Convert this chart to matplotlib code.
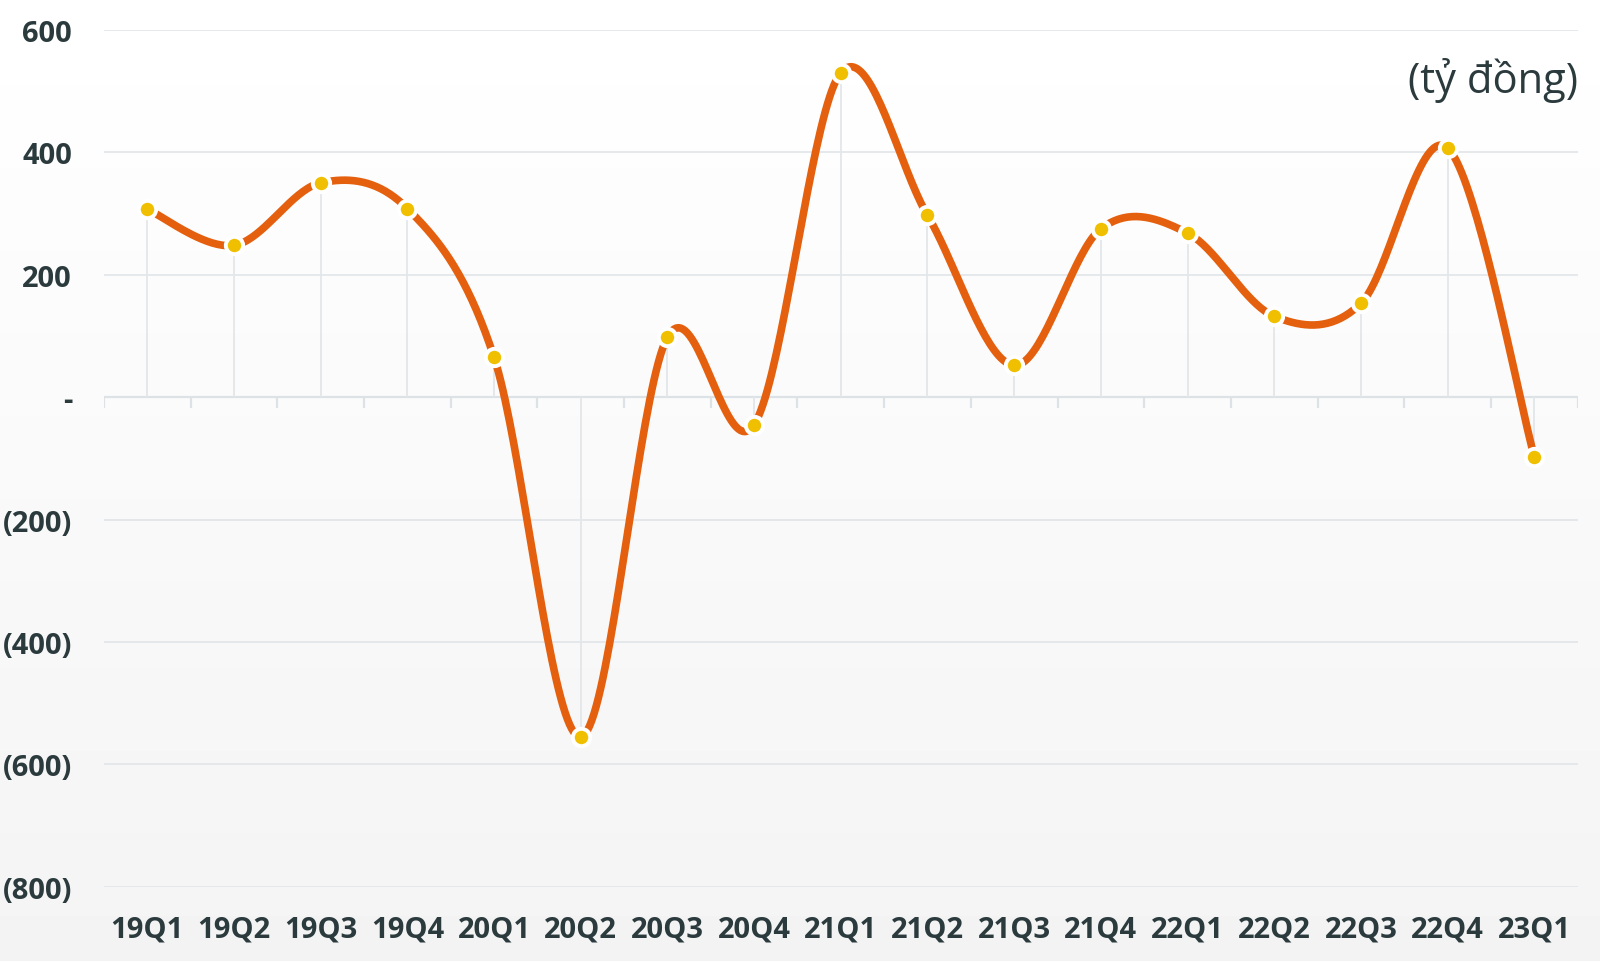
#!/usr/bin/env python3
''' Quarterly profit line chart (ty dong), smoothed like a spreadsheet line. '''
import numpy as np
import matplotlib
matplotlib.use('Agg')
import matplotlib.pyplot as plt

quarters = ['19Q1', '19Q2', '19Q3', '19Q4', '20Q1', '20Q2', '20Q3', '20Q4', '21Q1',
            '21Q2', '21Q3', '21Q4', '22Q1', '22Q2', '22Q3', '22Q4', '23Q1']
values = [307, 248, 350, 308, 65, -555, 98, -45, 530,
          297, 52, 275, 268, 132, 153, 407, -97]
yticks = [600, 400, 200, 0, -200, -400, -600, -800]
ytick_labels = ['600', '400', '200', '-', '(200)', '(400)', '(600)', '(800)']

LINE = '#e4600e'
DOT = '#f0c000'
GRID = '#e3e7ea'
TEXT = '#2b3a3d'

plt.rcParams['font.family'] = ['Open Sans', 'DejaVu Sans']


def smooth(x, y, n=40):
  # Catmull-Rom through every point, end points repeated.
  x = np.asarray(x, float)
  y = np.asarray(y, float)
  px = np.concatenate([[x[0]], x, [x[-1]]])
  py = np.concatenate([[y[0]], y, [y[-1]]])
  xs, ys = [], []
  t = np.linspace(0, 1, n)
  for i in range(1, len(px) - 2):
    for p, out in ((px, xs), (py, ys)):
      p0, p1, p2, p3 = p[i-1], p[i], p[i+1], p[i+2]
      c1 = p1 + (p2 - p0) / 6
      c2 = p2 - (p3 - p1) / 6
      out.append((1-t)**3*p1 + 3*(1-t)**2*t*c1 + 3*(1-t)*t**2*c2 + t**3*p2)
  return np.concatenate(xs), np.concatenate(ys)


def main():
  fig = plt.figure(figsize=(16, 9.62), dpi=100)
  # faint vertical gradient behind everything
  bg = fig.add_axes([0, 0, 1, 1], zorder=-10)
  grad = np.linspace(1.0, 0.955, 256).reshape(-1, 1)
  bg.imshow(grad, aspect='auto', cmap='gray', vmin=0, vmax=1, extent=[0, 1, 0, 1])
  bg.axis('off')

  ax = fig.add_axes([0.065, 0.077, 0.921, 0.891])
  ax.patch.set_alpha(0)
  x = np.arange(len(quarters))

  for y in yticks:
    if y != 0:
      ax.axhline(y, color=GRID, lw=1.3, zorder=1)
  ax.axhline(0, color='#dde2e6', lw=1.6, zorder=1)
  ax.vlines(x, 0, values, color=GRID, lw=1.3, zorder=1)
  # category boundary ticks hanging below the zero line
  ax.vlines(np.arange(len(quarters) + 1) - 0.5, -17, 0, color='#dde2e6', lw=1.6, zorder=1)

  sx, sy = smooth(x, values)
  ax.plot(sx, sy, color=LINE, lw=5.5, solid_capstyle='butt', zorder=3)
  ax.plot(x, values, 'o', color=DOT, ms=12.5, mec='white', mew=2.8, zorder=4)

  ax.set_xlim(-0.5, len(quarters) - 0.5)
  ax.set_ylim(-800, 600)
  ax.set_yticks(yticks)
  ax.set_yticklabels(ytick_labels)
  ax.set_xticks(x)
  ax.set_xticklabels(quarters)
  ax.tick_params(axis='both', length=0, colors=TEXT)
  ax.tick_params(axis='y', pad=23, labelsize=21)
  ax.tick_params(axis='x', pad=20, labelsize=21)
  for lbl in ax.get_xticklabels() + ax.get_yticklabels():
    lbl.set_fontweight('bold')
  for s in ax.spines.values():
    s.set_visible(False)

  ax.text(1.0, 0.942, '(tỷ đồng)', transform=ax.transAxes, ha='right', va='center',
          fontsize=30, color=TEXT)

  fig.savefig('out.png', dpi=100)


if __name__ == '__main__':
  main()
